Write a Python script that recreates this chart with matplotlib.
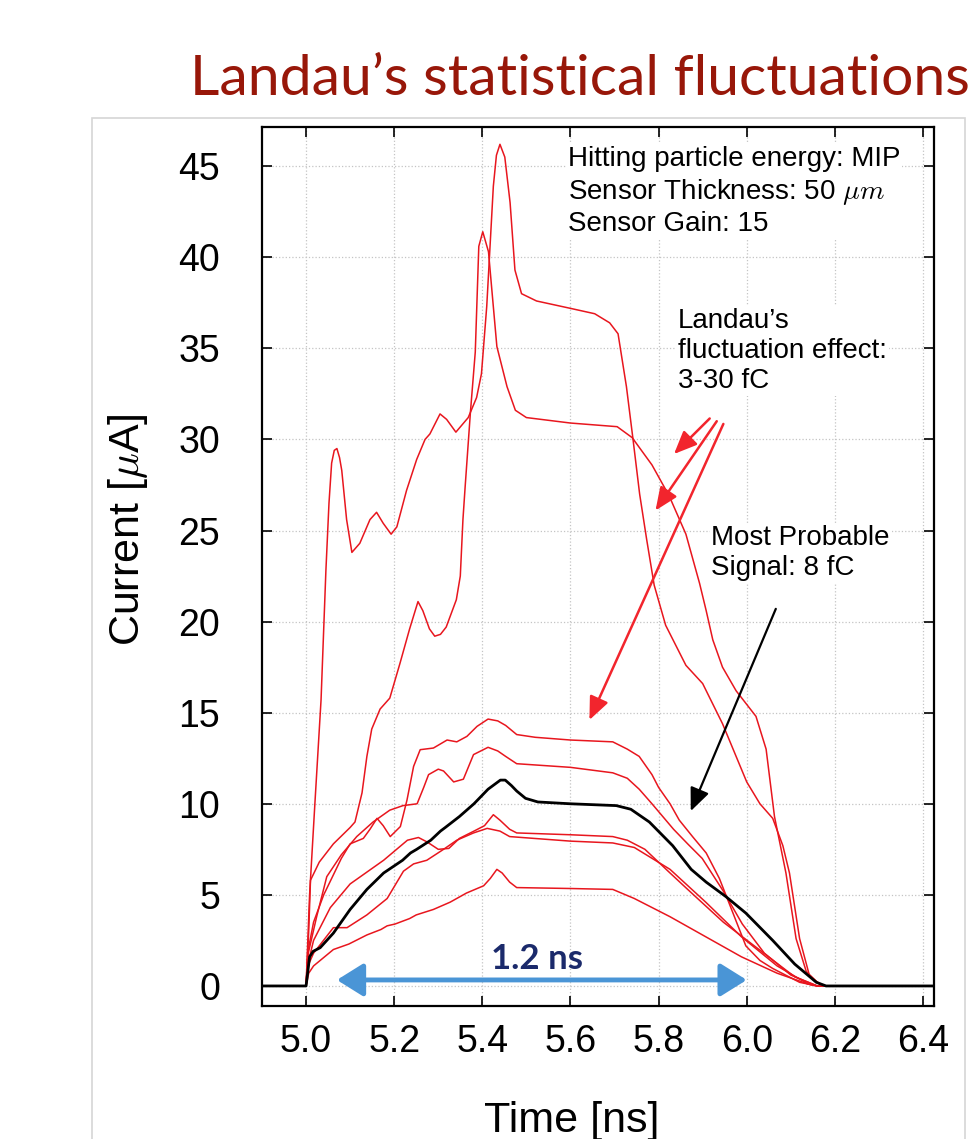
import matplotlib
matplotlib.use('Agg')
import matplotlib.pyplot as plt
from matplotlib.patches import Rectangle

# --- data: time [ns], current [uA] ---
t_a = [4.90, 5.00, 5.008, 5.02, 5.034, 5.045, 5.052, 5.058, 5.064, 5.07, 5.076, 5.081, 5.092, 5.104,
       5.122, 5.145, 5.16, 5.175, 5.193, 5.206, 5.228, 5.251, 5.27, 5.281, 5.304, 5.319, 5.34, 5.368,
       5.387, 5.398, 5.41, 5.425, 5.432, 5.44, 5.451, 5.463, 5.474, 5.489, 5.523, 5.599, 5.655, 5.689,
       5.708, 5.727, 5.742, 5.757, 5.773, 5.79, 5.816, 5.862, 5.90, 5.945, 6.00, 6.03, 6.059, 6.082,
       6.097, 6.12, 6.142, 6.165, 6.18, 6.425]
i_a = [0, 0, 5.0, 10.0, 15.7, 22.8, 26.5, 28.7, 29.4, 29.5, 29.0, 28.3, 25.6, 23.8,
       24.3, 25.6, 26.0, 25.4, 24.8, 25.2, 27.2, 28.9, 30.0, 30.3, 31.4, 31.1, 30.4, 31.2,
       32.3, 33.6, 37.3, 43.9, 45.6, 46.2, 45.5, 43.0, 39.3, 38.0, 37.6, 37.2, 36.9, 36.4,
       35.8, 32.9, 30.0, 27.0, 24.5, 22.0, 19.8, 17.6, 16.6, 14.4, 11.2, 10.0, 9.2, 7.7,
       6.2, 2.6, 0.6, 0.1, 0, 0]

t_b = [4.90, 5.00, 5.006, 5.01, 5.03, 5.062, 5.10, 5.111, 5.127, 5.138, 5.149, 5.168, 5.19, 5.213,
       5.235, 5.254, 5.265, 5.28, 5.292, 5.305, 5.318, 5.341, 5.35, 5.356, 5.361, 5.373, 5.384, 5.392,
       5.401, 5.414, 5.422, 5.433, 5.456, 5.475, 5.50, 5.60, 5.706, 5.740, 5.785, 5.824, 5.862, 5.893,
       5.908, 5.923, 5.945, 5.976, 6.021, 6.044, 6.063, 6.089, 6.112, 6.135, 6.158, 6.175, 6.425]
i_b = [0, 0, 3.0, 5.8, 6.8, 7.8, 8.7, 9.0, 10.6, 12.6, 14.1, 15.2, 15.8, 17.7,
       19.6, 21.1, 20.6, 19.6, 19.2, 19.3, 19.7, 21.2, 22.5, 25.6, 27.4, 31.5, 34.8, 40.6,
       41.4, 40.3, 38.1, 35.1, 32.9, 31.6, 31.2, 30.9, 30.7, 30.1, 28.6, 26.9, 24.8, 22.1,
       20.6, 19.0, 17.5, 16.2, 14.8, 13.0, 9.3, 6.2, 2.6, 0.8, 0.25, 0, 0]

t_c = [4.90, 5.00, 5.005, 5.017, 5.04, 5.06, 5.08, 5.10, 5.13, 5.145, 5.161, 5.175, 5.191, 5.214,
       5.229, 5.244, 5.259, 5.289, 5.32, 5.342, 5.365, 5.388, 5.413, 5.435, 5.453, 5.478, 5.52, 5.60,
       5.696, 5.729, 5.756, 5.785, 5.80, 5.826, 5.847, 5.877, 5.908, 5.938, 5.968, 5.998, 6.03, 6.059,
       6.12, 6.16, 6.425]
i_c = [0, 0, 2.0, 3.5, 5.0, 6.0, 7.0, 7.8, 8.1, 8.6, 9.2, 8.8, 8.2, 8.75,
       10.2, 12.05, 12.97, 13.06, 13.5, 13.4, 13.7, 14.25, 14.65, 14.55, 14.3, 13.8, 13.65, 13.5,
       13.4, 13.0, 12.6, 11.6, 10.9, 10.0, 9.1, 8.2, 7.3, 5.9, 4.05, 2.2, 1.4, 0.96,
       0.2, 0, 0]

t_d = [4.90, 5.00, 5.005, 5.024, 5.047, 5.08, 5.115, 5.152, 5.19, 5.22, 5.252, 5.267, 5.278, 5.30,
       5.312, 5.335, 5.357, 5.380, 5.413, 5.435, 5.453, 5.478, 5.60, 5.696, 5.729, 5.756, 5.785, 5.834,
       5.866, 5.899, 5.947, 5.99, 6.04, 6.10, 6.16, 6.425]
i_d = [0, 0, 1.8, 3.8, 6.0, 7.2, 8.2, 9.0, 9.65, 9.9, 10.0, 10.9, 11.6, 11.9,
       11.8, 11.2, 11.35, 12.7, 13.1, 12.9, 12.6, 12.2, 12.0, 11.7, 11.4, 10.8, 10.0, 8.6,
       7.8, 7.0, 5.2, 3.4, 1.8, 0.6, 0, 0]

t_f = [4.90, 5.00, 5.006, 5.017, 5.055, 5.10, 5.176, 5.23, 5.255, 5.275, 5.30, 5.324, 5.348, 5.381,
       5.405, 5.425, 5.44, 5.462, 5.478, 5.60, 5.696, 5.729, 5.769, 5.826, 5.866, 5.947, 6.028, 6.109,
       6.16, 6.425]
i_f = [0, 0, 1.4, 2.5, 4.3, 5.6, 6.9, 8.0, 8.15, 7.9, 7.5, 7.55, 8.1, 8.5,
       8.8, 9.4, 9.1, 8.6, 8.4, 8.3, 8.2, 8.0, 7.5, 6.2, 5.3, 3.5, 2.0, 0.5,
       0, 0]

t_g = [4.90, 5.00, 5.006, 5.017, 5.062, 5.093, 5.138, 5.184, 5.221, 5.244, 5.274, 5.312, 5.342, 5.380,
       5.411, 5.44, 5.462, 5.60, 5.696, 5.745, 5.826, 5.907, 5.988, 6.069, 6.14, 6.16, 6.425]
i_g = [0, 0, 1.2, 1.8, 3.2, 3.2, 3.9, 4.8, 6.3, 6.7, 6.9, 7.5, 8.0, 8.4,
       8.65, 8.5, 8.2, 7.95, 7.85, 7.6, 6.4, 4.6, 2.7, 1.1, 0.1, 0, 0]

t_h = [4.90, 5.00, 5.006, 5.017, 5.062, 5.097, 5.138, 5.17, 5.184, 5.202, 5.235, 5.25, 5.289, 5.327,
       5.364, 5.403, 5.418, 5.433, 5.445, 5.462, 5.478, 5.599, 5.696, 5.745, 5.826, 5.907, 5.988, 6.069,
       6.14, 6.16, 6.425]
i_h = [0, 0, 0.7, 1.1, 2.0, 2.3, 2.8, 3.1, 3.3, 3.4, 3.7, 3.9, 4.2, 4.6,
       5.1, 5.5, 5.9, 6.4, 6.2, 5.7, 5.4, 5.35, 5.3, 4.8, 3.8, 2.7, 1.6, 0.7,
       0.1, 0, 0]

# most probable signal (black)
t_mp = [4.90, 5.00, 5.008, 5.016, 5.032, 5.062, 5.10, 5.138, 5.176, 5.219, 5.237, 5.251, 5.283, 5.305,
        5.316, 5.348, 5.381, 5.413, 5.441, 5.452, 5.466, 5.478, 5.498, 5.526, 5.60, 5.704, 5.737, 5.779,
        5.832, 5.874, 5.908, 5.953, 5.998, 6.059, 6.109, 6.158, 6.18, 6.425]
i_mp = [0, 0, 1.6, 1.9, 2.1, 2.9, 4.2, 5.3, 6.2, 6.9, 7.3, 7.5, 8.0, 8.5,
        8.7, 9.3, 10.0, 10.8, 11.3, 11.3, 11.0, 10.7, 10.3, 10.1, 10.0, 9.9, 9.7, 9.0,
        7.7, 6.4, 5.7, 4.9, 4.0, 2.5, 1.2, 0.2, 0, 0]

red_curves = [(t_a, i_a), (t_b, i_b), (t_c, i_c), (t_d, i_d), (t_f, i_f), (t_g, i_g), (t_h, i_h)]

x_ticks = [5.0, 5.2, 5.4, 5.6, 5.8, 6.0, 6.2, 6.4]
y_ticks = [0, 5, 10, 15, 20, 25, 30, 35, 40, 45]

# annotation arrows (tail -> head), data coords
landau_tails = [(5.916, 31.15), (5.932, 31.0), (5.947, 30.85)]
landau_heads = [(5.835, 29.2), (5.793, 26.1), (5.643, 14.6)]
mp_tail = (6.066, 20.7)
mp_head = (5.873, 9.6)
width_span = (5.07, 6.0)

info_text = 'Hitting particle energy: MIP\nSensor Thickness: 50 $\\mu m$\nSensor Gain: 15'
landau_text = 'Landau\u2019s\nfluctuation effect:\n3-30 fC'
mp_text = 'Most Probable\nSignal: 8 fC'
width_text = '1.2 ns'

plt.rcParams['font.family'] = ['Liberation Sans', 'DejaVu Sans']
plt.rcParams['mathtext.fontset'] = 'cm'

W, H = 979, 1139
fig = plt.figure(figsize=(W / 100, H / 100), dpi=100)
ax = fig.add_axes([262 / W, 1 - 1006 / H, (934 - 262) / W, (1006 - 127) / H])

# light grey frame of the pasted picture
fig.patches.append(Rectangle((92 / W, -0.05), (965 - 92) / W, 1.05 - 118 / H,
                             transform=fig.transFigure, fill=False, ec='#d6d6d6', lw=1.2))

# slide title, runs off the right edge as in the slide
fig.text(190 / W, 1 - 95 / H, 'Landau\u2019s statistical fluctuations', ha='left', va='baseline',
         fontsize=41, color='#981709', family=['Lato', 'DejaVu Sans'])

red = '#e8161e'
for t, i in red_curves:
    ax.plot(t, i, color=red, lw=1.1, zorder=3, solid_joinstyle='round')
ax.plot(t_mp, i_mp, color='black', lw=2.0, zorder=4, solid_joinstyle='round')

ax.set_xlim(4.90, 6.425)
ax.set_ylim(-1.1, 47.15)
ax.set_xticks(x_ticks)
ax.set_xticklabels(['%.1f' % v for v in x_ticks])
ax.set_yticks(y_ticks)
ax.grid(True, ls=':', color='#c4c4c4', lw=0.9, zorder=0)
ax.tick_params(direction='in', length=7, width=1.2, top=True, right=True, labelsize=27)
ax.tick_params(axis='y', pad=30)
ax.tick_params(axis='x', pad=13)
for sp in ax.spines.values():
    sp.set_linewidth(1.6)

ax.set_ylabel('Current [$\\mu$A]', fontsize=31, va='center')
ax.yaxis.set_label_coords((128 - 262) / 672, (1006 - 530) / 879)
ax.set_xlabel('Time [ns]', fontsize=31, va='center')
ax.xaxis.set_label_coords((572 - 262) / 672, (1006 - 1121) / 879)

box = dict(fc='white', ec='none', pad=1.5)
ax.text(5.594, 46.1, info_text, ha='left', va='top', fontsize=20, linespacing=1.2, bbox=box, zorder=6)
ax.text(5.844, 37.2, landau_text, ha='left', va='top', fontsize=20, linespacing=1.2, bbox=box, zorder=6)
ax.text(5.92, 25.3, mp_text, ha='left', va='top', fontsize=20, linespacing=1.2, bbox=box, zorder=6)

for tail, head in zip(landau_tails, landau_heads):
    ax.annotate('', xy=head, xytext=tail, zorder=7,
                arrowprops=dict(arrowstyle='-|>,head_length=0.7,head_width=0.3', color='#f2252d',
                                lw=1.8, mutation_scale=20, shrinkA=0, shrinkB=0))
ax.annotate('', xy=mp_head, xytext=mp_tail, zorder=7,
            arrowprops=dict(arrowstyle='-|>,head_length=0.7,head_width=0.3', color='black',
                            lw=1.6, mutation_scale=20, shrinkA=0, shrinkB=0))

ax.annotate('', xy=(width_span[0], 0.33), xytext=(width_span[1], 0.33), zorder=7,
            arrowprops=dict(arrowstyle='<|-|>,head_length=0.8,head_width=0.5', color='#4a95d6',
                            lw=3.5, mutation_scale=20, shrinkA=0, shrinkB=0))
ax.text(sum(width_span) / 2 - 0.01, 1.5, width_text,
        ha='center', va='center', fontsize=25, fontweight='bold', color='#1b2a6b',
        family=['Lato', 'DejaVu Sans'], zorder=7)

fig.savefig('out.png', dpi=100)
